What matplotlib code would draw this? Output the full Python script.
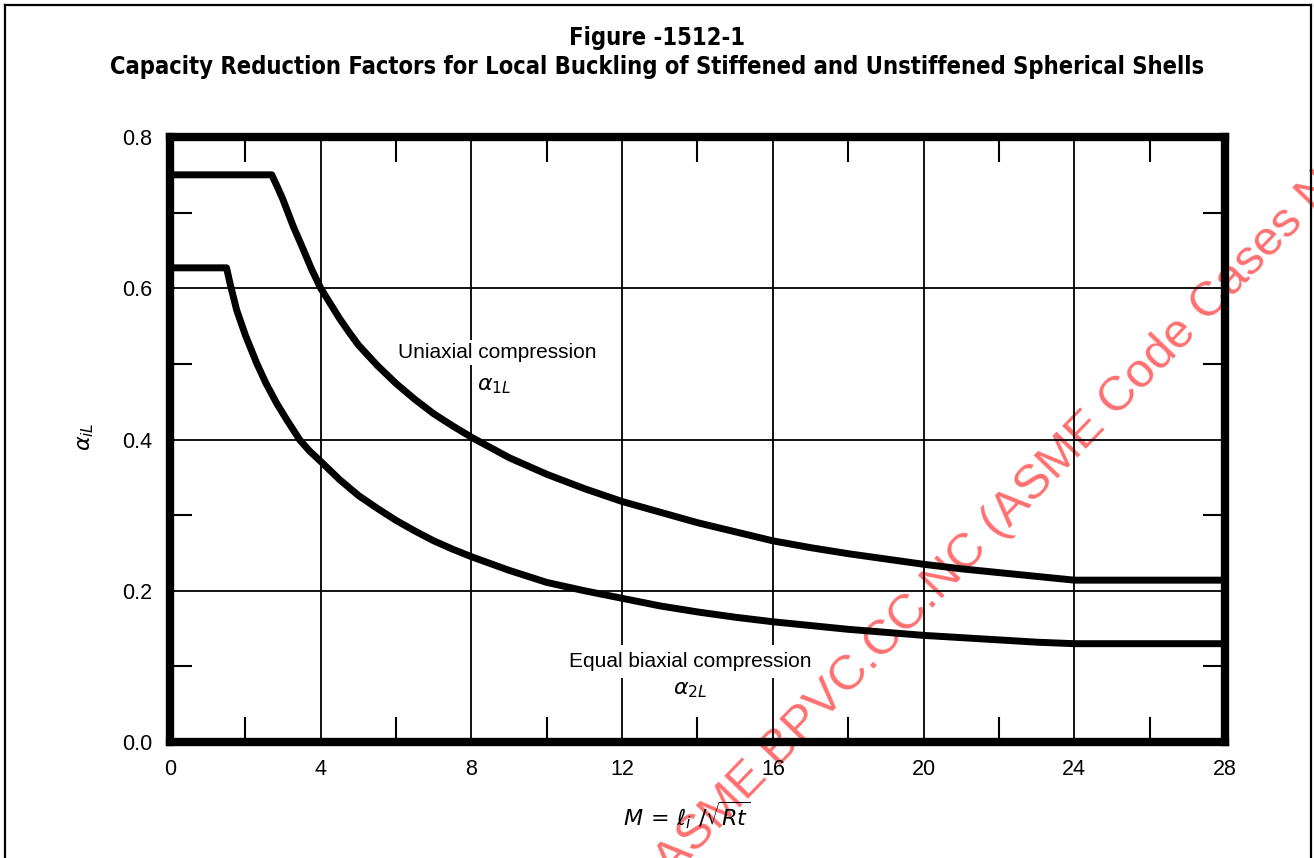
import matplotlib
matplotlib.use("Agg")
import matplotlib.pyplot as plt
from matplotlib.lines import Line2D
from matplotlib.ticker import FixedLocator
from matplotlib import font_manager

plt.rcParams["font.family"] = ["Liberation Sans", "DejaVu Sans"]
plt.rcParams["mathtext.fontset"] = "dejavusans"

# Capacity reduction factor, uniaxial compression (alpha_1L)
m_uniaxial = [0.0, 2.7, 2.85, 3.0, 3.27, 3.54, 3.75, 4.0, 4.25, 4.5, 4.75, 5.0, 5.5, 6.0, 6.5, 7.0,
              7.5, 8.0, 9.0, 10.0, 11.0, 12.0, 13.0, 14.0, 15.0, 16.0, 17.0, 18.0, 19.0, 20.0,
              21.0, 22.0, 23.0, 24.0, 28.0]
alpha_1L = [0.750, 0.750, 0.734, 0.717, 0.682, 0.651, 0.626, 0.600, 0.580, 0.560, 0.542, 0.525,
            0.498, 0.474, 0.453, 0.434, 0.418, 0.403, 0.376, 0.354, 0.335, 0.318, 0.304, 0.290,
            0.278, 0.266, 0.257, 0.249, 0.242, 0.235, 0.229, 0.224, 0.219, 0.214, 0.214]

# Capacity reduction factor, equal biaxial compression (alpha_2L)
m_biaxial = [0.0, 1.5, 1.6, 1.77, 2.0, 2.3, 2.55, 2.83, 3.1, 3.45, 3.7, 4.0, 4.5, 5.0, 5.5, 6.0,
             6.5, 7.0, 7.5, 8.0, 9.0, 10.0, 11.0, 12.0, 13.0, 14.0, 15.0, 16.0, 17.0, 18.0,
             19.0, 20.0, 21.0, 22.0, 23.0, 24.0, 28.0]
alpha_2L = [0.627, 0.627, 0.605, 0.571, 0.538, 0.501, 0.474, 0.448, 0.426, 0.399, 0.385, 0.371,
            0.347, 0.326, 0.309, 0.293, 0.279, 0.266, 0.255, 0.245, 0.227, 0.211, 0.200, 0.190,
            0.180, 0.172, 0.165, 0.159, 0.154, 0.149, 0.145, 0.141, 0.138, 0.135, 0.132, 0.130,
            0.130]

x_major = [0, 4, 8, 12, 16, 20, 24, 28]
x_minor = [2, 6, 10, 14, 18, 22, 26]
y_major = [0.0, 0.2, 0.4, 0.6, 0.8]
y_minor = [0.1, 0.3, 0.5, 0.7]
x_labels = ["0", "4", "8", "12", "16", "20", "24", "28"]
y_labels = ["0.0", "0.2", "0.4", "0.6", "0.8"]

W, H = 1314, 858
fig = plt.figure(figsize=(W / 100, H / 100), dpi=100)
fig.patch.set_facecolor("white")

# page border
for xs, ys in [((5 / W, 5 / W), (-0.1, 1 - 5 / H)),
               ((1311 / W, 1311 / W), (-0.1, 1 - 5 / H)),
               ((5 / W, 1311 / W), (1 - 5 / H, 1 - 5 / H))]:
    fig.add_artist(Line2D(xs, ys, color="black", lw=1.6, transform=fig.transFigure))

ax = fig.add_axes([170 / W, 1 - 742 / H, (1225 - 170) / W, (742 - 137) / H])
ax.patch.set_visible(False)
ax.set_xlim(0, 28)
ax.set_ylim(0, 0.8)

ax.xaxis.set_major_locator(FixedLocator(x_major))
ax.xaxis.set_minor_locator(FixedLocator(x_minor))
ax.yaxis.set_major_locator(FixedLocator(y_major))
ax.yaxis.set_minor_locator(FixedLocator(y_minor))
ax.set_xticklabels(x_labels)
ax.set_yticklabels(y_labels)

ax.grid(which="major", color="black", lw=1.3)
ax.tick_params(which="major", length=0, labelsize=15.5, pad=13)
ax.tick_params(axis="x", which="major", pad=12)
ax.tick_params(which="minor", direction="in", length=18, width=1.5,
               top=True, right=True, bottom=True, left=True)
ax.tick_params(axis="y", which="minor", length=16)

for sp in ax.spines.values():
    sp.set_linewidth(6)
    sp.set_zorder(5)

ax.plot(m_uniaxial, alpha_1L, color="black", lw=5, solid_joinstyle="round", zorder=4)
ax.plot(m_biaxial, alpha_2L, color="black", lw=5, solid_joinstyle="round", zorder=4)

box = dict(facecolor="white", edgecolor="none", pad=2)
ax.text(8.68, 0.515, "Uniaxial compression", ha="center", va="center", fontsize=15, bbox=box, zorder=3)
ax.text(8.6, 0.472, r"$\alpha_{1L}$", ha="center", va="center", fontsize=16, bbox=box, zorder=3)
ax.text(13.8, 0.106, "Equal biaxial compression", ha="center", va="center", fontsize=15,
        bbox=dict(facecolor="white", edgecolor="none", pad=5), zorder=3)
ax.text(13.8, 0.069, r"$\alpha_{2L}$", ha="center", va="center", fontsize=16, zorder=3)

fig.text(85 / W, 1 - 437 / H, r"$\alpha_{iL}$", rotation=90, ha="center", va="center", fontsize=16)
fig.text(687 / W, 1 - 815 / H, r"$M\,=\,\ell_i\ /\sqrt{Rt}$", ha="center", va="center", fontsize=16)

title_font = font_manager.FontProperties(family="DejaVu Sans", stretch="condensed",
                                         weight="bold", size=17)
fig.text(657 / W, 1 - 38 / H, "Figure -1512-1", ha="center", va="center",
         fontproperties=title_font)
fig.text(657 / W, 1 - 67 / H,
         "Capacity Reduction Factors for Local Buckling of Stiffened and Unstiffened Spherical Shells",
         ha="center", va="center", fontproperties=title_font)

# watermark, drawn beneath the plot lines
fig.text(672 / W, 1 - 878 / H, "ASME BPVC.CC.NC (ASME Code Cases N", rotation=46,
         rotation_mode="anchor", ha="left", va="baseline", fontsize=35.5,
         color="#ff7070", zorder=-1)

fig.savefig("out.png", dpi=100, facecolor="white")
